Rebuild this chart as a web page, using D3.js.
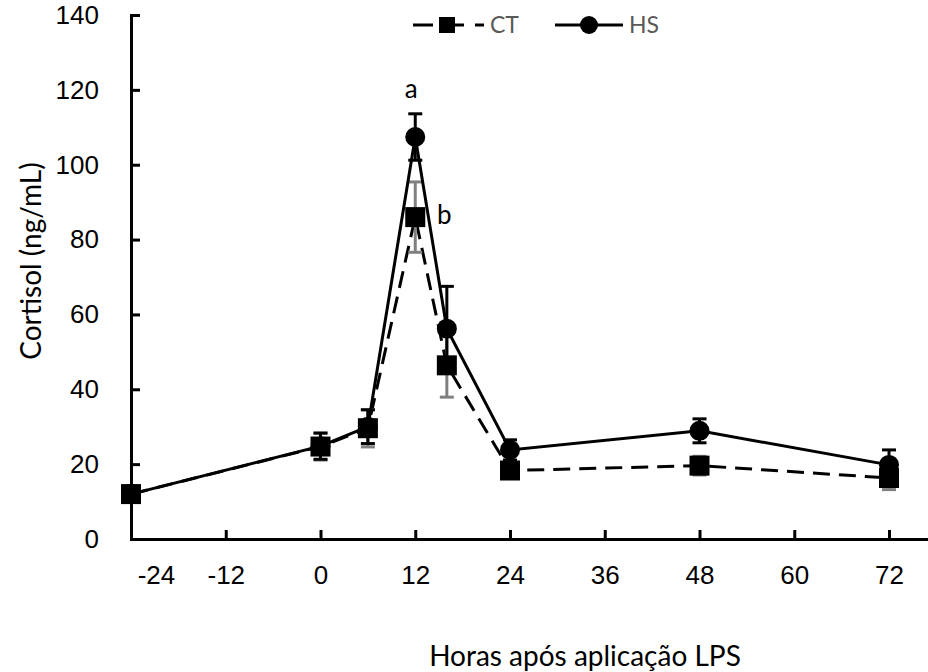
<!DOCTYPE html>
<html>
<head>
<meta charset="utf-8">
<script src="https://cdn.jsdelivr.net/npm/d3@7"></script>
<style>
  body { margin: 0; background: #fff; }
  svg { display: block; font-family: Lato, 'Open Sans', sans-serif; }
</style>
</head>
<body>
<div id="chart"></div>
<script>
// data
const hours = [-24, 0, 6, 12, 16, 24, 48, 72];
const ctValues = [12, 24.7, 29.6, 86, 46.4, 18.3, 19.6, 16.3];
const ctErr = [0, 3.6, 5, 9.4, 8.5, 1.5, 2.5, 3.1];
const hsValues = [12, 24.8, 30, 107.4, 56.2, 23.8, 28.9, 19.8];
const hsErr = [0, 3.5, 4.5, 6.2, 11.3, 2.7, 3.2, 4];
const xTicks = [-24, -12, 0, 12, 24, 36, 48, 60, 72];
const yTicks = [0, 20, 40, 60, 80, 100, 120, 140];
const letters = [{ label: 'a', x: 12, y: 107.4 }, { label: 'b', x: 12, y: 86 }];

const width = 928;
const height = 672;
const marginLeft = 131;
const marginTop = 15;
const plotBottom = 539;

const svg = d3.select('#chart').append('svg')
  .attr('width', width)
  .attr('height', height);

// scales
const scaleX = d3.scaleLinear().domain([-24, 78]).range([marginLeft, marginLeft + 102 * 7.896]);
const scaleY = d3.scaleLinear().domain([0, 140]).range([plotBottom, marginTop]);

// axes
const $xAxis = svg.append('g')
  .attr('transform', `translate(0,${plotBottom})`)
  .call(d3.axisBottom(scaleX).tickValues(xTicks).tickFormat(d => String(d))
    .tickSizeInner(-9).tickSizeOuter(0).tickPadding(27));
const $yAxis = svg.append('g')
  .attr('transform', `translate(${marginLeft},0)`)
  .call(d3.axisLeft(scaleY).tickValues(yTicks).tickFormat(d => String(d))
    .tickSizeInner(-9).tickSizeOuter(0).tickPadding(32));

[$xAxis, $yAxis].forEach($a => {
  $a.select('.domain').attr('stroke', '#000').attr('stroke-width', 3).attr('stroke-linecap', 'square');
  $a.selectAll('.tick line').attr('stroke', '#000').attr('stroke-width', 3);
  $a.selectAll('.tick text').attr('fill', '#000').attr('font-size', 26).attr('font-family', null);
});
// first x label is pushed inside like in Excel
$xAxis.selectAll('.tick text').filter(d => d === -24).attr('dx', 25);

svg.append('text')
  .attr('x', 585)
  .attr('y', 666)
  .attr('text-anchor', 'middle')
  .attr('font-size', 28)
  .text('Horas após aplicação LPS');

svg.append('text')
  .attr('transform', `translate(41,261) rotate(-90)`)
  .attr('text-anchor', 'middle')
  .attr('font-size', 28)
  .text('Cortisol (ng/mL)');

const series = [
  { name: 'CT', values: ctValues, err: ctErr, dash: '17,9', errColor: '#808080', marker: 'square' },
  { name: 'HS', values: hsValues, err: hsErr, dash: null, errColor: '#000', marker: 'circle' }
];

const line = d3.line().x(d => scaleX(d.h)).y(d => scaleY(d.v));

series.forEach(s => {
  const pts = hours.map((h, i) => ({ h, v: s.values[i], e: s.err[i] }));
  const $g = svg.append('g').attr('class', `g-${s.name}`);

  $g.append('path')
    .attr('d', line(pts))
    .attr('fill', 'none')
    .attr('stroke', '#000')
    .attr('stroke-width', 3)
    .attr('stroke-dasharray', s.dash);

  const $err = $g.selectAll('.err').data(pts.filter(d => d.e > 0)).enter().append('g')
    .attr('stroke', s.errColor).attr('stroke-width', 3);
  $err.append('line')
    .attr('x1', d => scaleX(d.h)).attr('x2', d => scaleX(d.h))
    .attr('y1', d => scaleY(d.v - d.e)).attr('y2', d => scaleY(d.v + d.e));
  [1, -1].forEach(sign => {
    $err.append('line')
      .attr('x1', d => scaleX(d.h) - 7).attr('x2', d => scaleX(d.h) + 7)
      .attr('y1', d => scaleY(d.v + sign * d.e)).attr('y2', d => scaleY(d.v + sign * d.e));
  });

  if (s.marker === 'square') {
    $g.selectAll('.mk').data(pts).enter().append('rect')
      .attr('x', d => scaleX(d.h) - 10).attr('y', d => scaleY(d.v) - 10)
      .attr('width', 20).attr('height', 20).attr('fill', '#000');
  } else {
    $g.selectAll('.mk').data(pts).enter().append('circle')
      .attr('cx', d => scaleX(d.h)).attr('cy', d => scaleY(d.v))
      .attr('r', 10).attr('fill', '#000');
  }
});

// significance letters
svg.selectAll('.letter').data(letters).enter().append('text')
  .attr('x', d => scaleX(d.x) + (d.label === 'a' ? -4 : 29))
  .attr('y', d => scaleY(d.y) + (d.label === 'a' ? -39 : 7))
  .attr('text-anchor', 'middle')
  .attr('font-size', 26)
  .text(d => d.label);

// legend
const $legend = svg.append('g').attr('class', 'g-legend');
const legendItems = [
  { name: 'CT', x0: 413, x1: 484, dash: '20,11', marker: 'square' },
  { name: 'HS', x0: 555, x1: 623, dash: null, marker: 'circle' }
];
legendItems.forEach(d => {
  $legend.append('line')
    .attr('x1', d.x0).attr('x2', d.x1).attr('y1', 25).attr('y2', 25)
    .attr('stroke', '#000').attr('stroke-width', 3)
    .attr('stroke-dasharray', d.dash);
  if (d.marker === 'square') {
    $legend.append('rect').attr('x', 439).attr('y', 17).attr('width', 16).attr('height', 16).attr('fill', '#000');
  } else {
    $legend.append('circle').attr('cx', 589).attr('cy', 25).attr('r', 9).attr('fill', '#000');
  }
  $legend.append('text')
    .attr('x', d.x1 + 6).attr('y', 33)
    .attr('font-size', 23)
    .attr('fill', '#595959')
    .text(d.name);
});
</script>
</body>
</html>
